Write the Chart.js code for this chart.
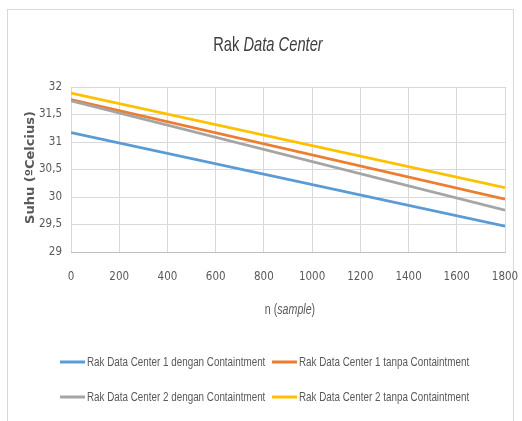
<!DOCTYPE html>
<html><head><meta charset="utf-8">
<script src="https://cdn.jsdelivr.net/npm/chart.js@4.4.0/dist/chart.umd.min.js"></script>
<style>
html,body{margin:0;padding:0;background:#fff;}
#wrap{position:relative;width:522px;height:421px;overflow:hidden;}
#frame{position:absolute;left:7px;top:9px;width:507px;height:440px;border:1px solid #d9d9d9;box-sizing:border-box;}
#c{position:absolute;left:0;top:0;}
</style></head><body>
<div id="wrap"><div id="frame"></div><canvas id="c" width="522" height="421"></canvas></div>
<script>
const samples = [0, 1800];
const rak1Dengan = [31.17, 29.47];
const rak1Tanpa = [31.77, 29.96];
const rak2Dengan = [31.75, 29.76];
const rak2Tanpa = [31.89, 30.17];
const seriesNames = [
  'Rak Data Center 1 dengan Containtment',
  'Rak Data Center 1 tanpa Containtment',
  'Rak Data Center 2 dengan Containtment',
  'Rak Data Center 2 tanpa Containtment'
];
const seriesValues = [rak1Dengan, rak1Tanpa, rak2Dengan, rak2Tanpa];
const seriesColors = ['#5B9BD5', '#ED7D31', '#A5A5A5', '#FFC000'];
const xTicks = [0, 200, 400, 600, 800, 1000, 1200, 1400, 1600, 1800];
const xTickLabels = ['0', '200', '400', '600', '800', '1000', '1200', '1400', '1600', '1800'];
const yTicks = [29, 29.5, 30, 30.5, 31, 31.5, 32];
const yTickLabels = ['29', '29,5', '30', '30,5', '31', '31,5', '32'];
const titleParts = [['Rak ', false], ['Data Center', true]];
const xTitleParts = [['n (', false], ['sample', true], [')', false]];
const yTitle = 'Suhu (\u00BACelcius)';

const SANS = '"Liberation Sans", Arial, sans-serif';
const COND = '"DejaVu Sans Condensed", "Liberation Sans", sans-serif';
const TXT = '#595959';

function narrowWidth(ctx, t, font, sq) { ctx.font = font; return ctx.measureText(t).width * sq; }
function narrowText(ctx, t, x, y, font, sq) {
  ctx.save(); ctx.font = font; ctx.translate(x, y); ctx.scale(sq, 1);
  ctx.fillText(t, 0, 0); ctx.restore();
}
function drawParts(ctx, parts, cx, cy, size, sq, color) {
  const fonts = parts.map(([t, it]) => (it ? 'italic ' : '') + size + 'px ' + SANS);
  const widths = parts.map(([t], i) => narrowWidth(ctx, t, fonts[i], sq));
  const total = widths.reduce((a, b) => a + b, 0);
  let x = cx - total / 2;
  ctx.fillStyle = color; ctx.textBaseline = 'middle'; ctx.textAlign = 'left';
  parts.forEach(([t], i) => { narrowText(ctx, t, x, cy, fonts[i], sq); x += widths[i]; });
}

const textPlugin = {
  id: 'texts',
  afterDraw(chart) {
    const ctx = chart.ctx;
    const area = chart.chartArea;
    ctx.save();
    drawParts(ctx, titleParts, 268, 45, 21, 0.70, '#404040');
    drawParts(ctx, xTitleParts, (area.left + area.right) / 2 + 2, 310, 14, 0.76, TXT);
    ctx.save();
    ctx.translate(31, (area.top + area.bottom) / 2 - 2);
    ctx.rotate(-Math.PI / 2);
    ctx.font = 'bold 13px "DejaVu Sans", sans-serif';
    ctx.fillStyle = TXT; ctx.textAlign = 'center'; ctx.textBaseline = 'middle';
    ctx.fillText(yTitle, 0, 0);
    ctx.restore();
    const cols = [60, 272];
    const rows = [362, 397];
    ctx.textBaseline = 'middle'; ctx.textAlign = 'left';
    chart.data.datasets.forEach((ds, i) => {
      const x = cols[i % 2], y = rows[Math.floor(i / 2)];
      ctx.strokeStyle = ds.borderColor; ctx.lineWidth = 3;
      ctx.beginPath(); ctx.moveTo(x, y); ctx.lineTo(x + 25, y); ctx.stroke();
      ctx.fillStyle = TXT;
      narrowText(ctx, ds.label, x + 27, y, '13px ' + SANS, 0.757);
    });
    ctx.restore();
  }
};

new Chart(document.getElementById('c'), {
  type: 'line',
  data: {
    datasets: seriesValues.map((vals, i) => ({
      label: seriesNames[i],
      data: samples.map((s, j) => ({ x: s, y: vals[j] })),
      borderColor: seriesColors[i],
      backgroundColor: seriesColors[i],
      borderWidth: 2.75,
      pointRadius: 0,
      tension: 0,
      order: 4 - i
    }))
  },
  options: {
    responsive: false,
    animation: false,
    devicePixelRatio: 1,
    layout: { padding: { left: 0, top: 87, right: 17, bottom: 421 - 252 - 40 } },
    plugins: { legend: { display: false }, title: { display: false }, tooltip: { enabled: false } },
    scales: {
      x: {
        type: 'linear', min: 0, max: 1800,
        afterBuildTicks: s => { s.ticks = xTicks.map(v => ({ value: v })); },
        afterFit: s => { s.height = 40; },
        grid: { color: '#d9d9d9', drawTicks: true, tickLength: 15, tickColor: 'rgba(0,0,0,0)', lineWidth: 1 },
        border: { color: '#bfbfbf', width: 1 },
        ticks: {
          padding: 3, color: TXT, font: { family: COND, size: 11.5 }, maxRotation: 0, autoSkip: false,
          callback: v => xTickLabels[xTicks.indexOf(v)]
        }
      },
      y: {
        type: 'linear', min: 29, max: 32,
        afterBuildTicks: s => { s.ticks = yTicks.map(v => ({ value: v })); },
        afterFit: s => { s.width = 71; },
        grid: { color: '#d9d9d9', drawTicks: false, lineWidth: 1 },
        border: { display: false },
        ticks: {
          padding: 9, color: TXT, font: { family: COND, size: 11.5 },
          callback: v => yTickLabels[yTicks.indexOf(v)]
        }
      }
    }
  },
  plugins: [textPlugin]
});
</script>
</body></html>
